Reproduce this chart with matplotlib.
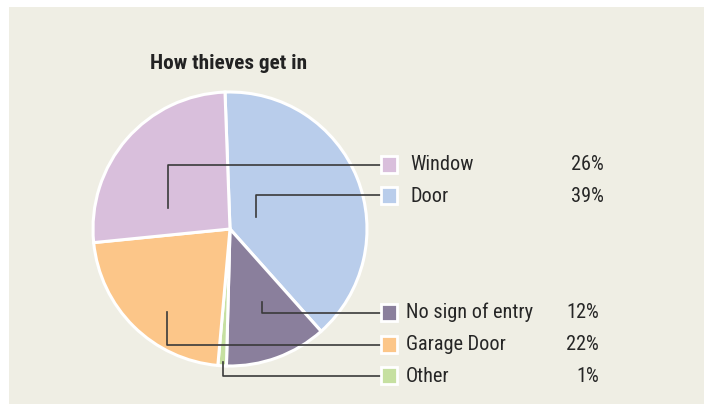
import matplotlib.pyplot as plt
from matplotlib.patches import Rectangle

plt.rcParams['font.family'] = ['Roboto Condensed', 'DejaVu Sans']

labels = ['Window', 'Door', 'No sign of entry', 'Garage Door', 'Other']
shares = [26, 39, 12, 22, 1]
colors = ['#d9bfdc', '#b9cdeb', '#8a7f9c', '#fcc689', '#c6e0a1']

# pie is drawn clockwise from the top, starting with Door
pie_order = [1, 2, 4, 3, 0]

W, H = 704, 404
fig = plt.figure(figsize=(W / 100, H / 100), dpi=100)
fig.patch.set_facecolor('white')
# beige panel behind everything
fig.patches.append(Rectangle((9 / W, 0), 1 - 9 / W, 1 - 7 / H, transform=fig.transFigure,
                             facecolor='#efeee4', edgecolor='none', zorder=-1))

cx, cy, r = 230, 229, 137
pax = fig.add_axes([(cx - r) / W, 1 - (cy + r) / H, 2 * r / W, 2 * r / H])
pax.pie([shares[i] for i in pie_order], colors=[colors[i] for i in pie_order],
        startangle=92.1, counterclock=False, radius=1,
        wedgeprops=dict(edgecolor='white', linewidth=2.2))
pax.set_xlim(-1.0, 1.0)
pax.set_ylim(-1.0, 1.0)
pax.set_aspect('auto')
pax.axis('off')

# overlay in pixel coordinates for leaders, legend and text
ax = fig.add_axes([0, 0, 1, 1])
ax.set_xlim(0, W)
ax.set_ylim(H, 0)
ax.axis('off')
ax.patch.set_alpha(0)

# leader lines: (x of vertical, y inside slice, y of row)
leaders = [(168, 208, 165), (256, 217, 195), (262, 302, 313), (167, 312, 345), (223, 362, 376)]
rows = [164, 195, 312, 344, 375]
label_x = [410, 410, 406, 406, 406]
pct_x = [604, 604, 599, 599, 599]

for i in range(5):
    lx, ly, ry = leaders[i]
    ax.plot([lx, lx, 381], [ly, ry, ry], color='#3a3a3a', lw=1.2, zorder=3)
    ax.add_patch(Rectangle((381, rows[i] - 8.5), 16, 17, facecolor=colors[i],
                           edgecolor='white', lw=2, zorder=4))
    ax.text(label_x[i], rows[i] + 6.5, labels[i], fontsize=14.6, color='#262626',
            ha='left', va='baseline')
    ax.text(pct_x[i], rows[i] + 6.5, f'{shares[i]}%', fontsize=14.6, color='#262626',
            ha='right', va='baseline')

ax.text(150, 69, 'How thieves get in', fontsize=15.3, fontweight='bold', color='#222222',
        ha='left', va='baseline')

fig.savefig('out.png', dpi=100, facecolor=fig.get_facecolor())
